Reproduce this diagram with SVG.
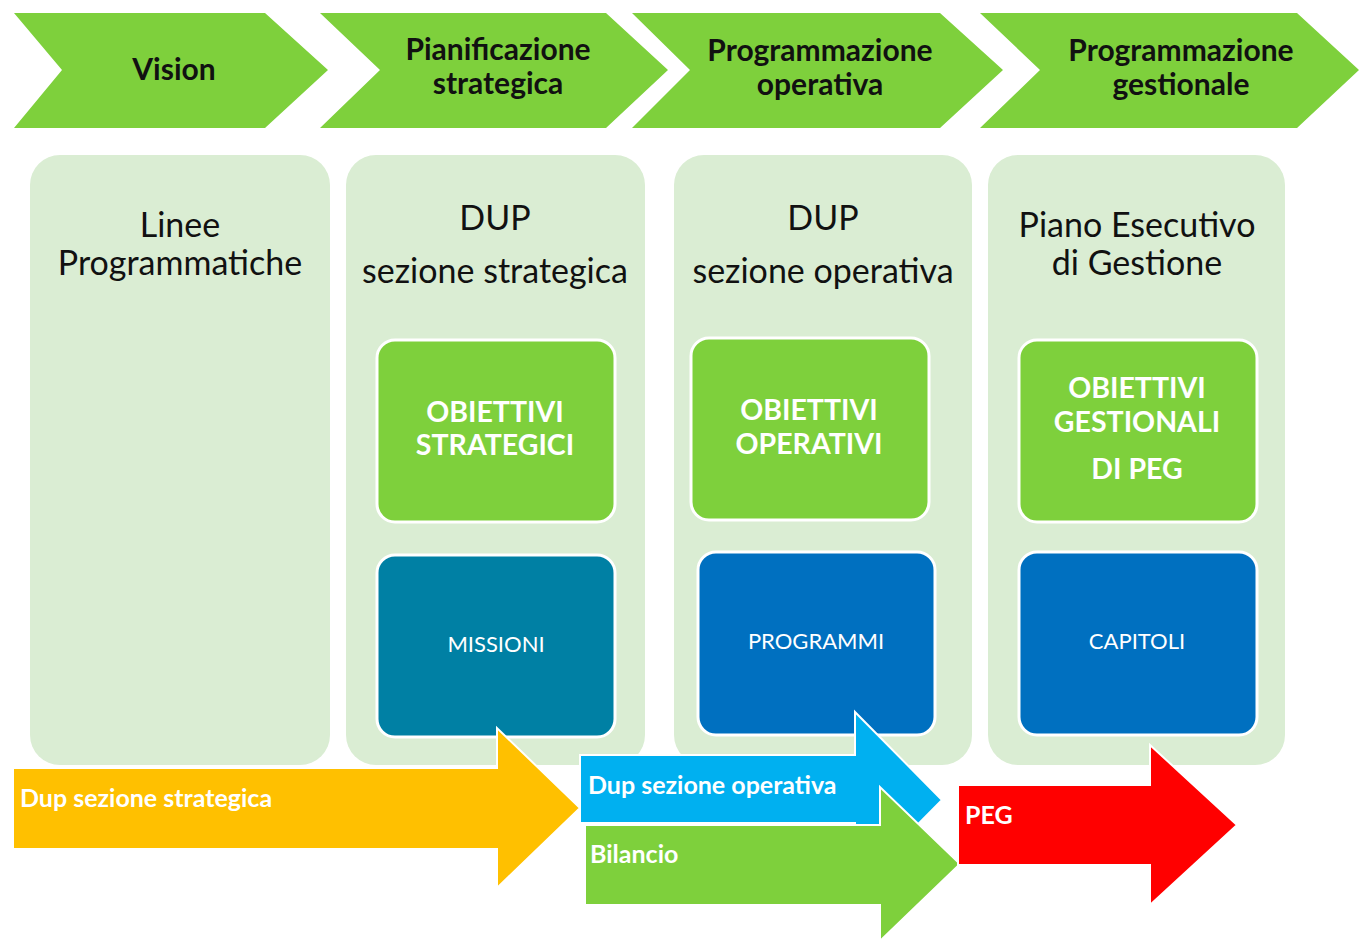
<svg xmlns="http://www.w3.org/2000/svg" width="1359" height="941" viewBox="0 0 1359 941">
<style>
.chev{fill:#7ED03C}
.chevt{font-family:Lato,"Liberation Sans",sans-serif;font-weight:bold;font-size:30px;fill:#111;text-anchor:middle}
.panel{fill:#DAEDD3}
.pt{font-family:Lato,"Liberation Sans",sans-serif;font-size:34px;fill:#111;text-anchor:middle}
.gbox{fill:#7ED03C;stroke:#fff;stroke-width:3}
.gt{font-family:Lato,"Liberation Sans",sans-serif;font-weight:bold;font-size:28.5px;fill:#fff;text-anchor:middle}
.bt{font-family:Lato,"Liberation Sans",sans-serif;font-size:22px;fill:#fff;text-anchor:middle}
.arr{stroke:#fff;stroke-width:2;stroke-linejoin:miter}
.at{font-family:Lato,"Liberation Sans",sans-serif;font-weight:bold;font-size:25px;fill:#fff}
</style>
<rect width="1359" height="941" fill="#fff"/>
<g id="chevron-vision">
<polygon class="chev" points="14,13 265,13 328,70 265,128 14,128 62,70"/>
<text class="chevt" x="174" y="80">Vision</text>
</g>
<g id="chevron-pianificazione">
<polygon class="chev" points="320,13 606,13 668,70 606,128 320,128 380,70"/>
<text class="chevt" x="498" y="60">Pianificazione</text>
<text class="chevt" x="498" y="94">strategica</text>
</g>
<g id="chevron-prog-operativa">
<polygon class="chev" points="632,13 940,13 1003,70 940,128 632,128 690,70"/>
<text class="chevt" x="820" y="61">Programmazione</text>
<text class="chevt" x="820" y="95">operativa</text>
</g>
<g id="chevron-prog-gestionale">
<polygon class="chev" points="980,13 1297,13 1359,70 1297,128 980,128 1040,70"/>
<text class="chevt" x="1181" y="61">Programmazione</text>
<text class="chevt" x="1181" y="95">gestionale</text>
</g>
<g id="panel-linee">
<rect class="panel" x="30" y="155" width="300" height="610" rx="30"/>
<text class="pt" x="180" y="237">Linee</text>
<text class="pt" x="180" y="275">Programmatiche</text>
</g>
<g id="panel-dup-strategica">
<rect class="panel" x="346" y="155" width="299" height="610" rx="30"/>
<text class="pt" x="495" y="230">DUP</text>
<text class="pt" x="495" y="283">sezione strategica</text>
</g>
<g id="panel-dup-operativa">
<rect class="panel" x="674" y="155" width="298" height="610" rx="30"/>
<text class="pt" x="823" y="230">DUP</text>
<text class="pt" x="823" y="283">sezione operativa</text>
</g>
<g id="panel-peg">
<rect class="panel" x="988" y="155" width="297" height="610" rx="30"/>
<text class="pt" x="1137" y="237">Piano Esecutivo</text>
<text class="pt" x="1137" y="275">di Gestione</text>
</g>
<g id="obiettivi-strategici">
<rect class="gbox" x="377" y="340" width="238" height="182" rx="18"/>
<text class="gt" x="495" y="422">OBIETTIVI</text>
<text class="gt" x="495" y="455">STRATEGICI</text>
</g>
<g id="obiettivi-operativi">
<rect class="gbox" x="691" y="338" width="238" height="182" rx="18"/>
<text class="gt" x="809" y="420">OBIETTIVI</text>
<text class="gt" x="809" y="454">OPERATIVI</text>
</g>
<g id="obiettivi-gestionali">
<rect class="gbox" x="1019" y="340" width="238" height="182" rx="18"/>
<text class="gt" x="1137" y="398">OBIETTIVI</text>
<text class="gt" x="1137" y="432">GESTIONALI</text>
<text class="gt" x="1137" y="479">DI PEG</text>
</g>
<g id="missioni">
<rect x="377" y="555" width="238" height="182" rx="18" fill="#0080A4" stroke="#fff" stroke-width="3"/>
<text class="bt" x="496" y="652">MISSIONI</text>
</g>
<g id="programmi">
<rect x="698" y="552" width="237" height="183" rx="18" fill="#0070C0" stroke="#fff" stroke-width="3"/>
<text class="bt" x="816" y="649">PROGRAMMI</text>
</g>
<g id="capitoli">
<rect x="1019" y="552" width="238" height="183" rx="18" fill="#0070C0" stroke="#fff" stroke-width="3"/>
<text class="bt" x="1137" y="649">CAPITOLI</text>
</g>
<g id="connectors">
<g id="arrow-dup-strategica">
<polygon class="arr" fill="#FFC000" points="13,768 497,768 497,728 580,808 497,888 497,849 13,849"/>
<text class="at" x="20" y="807">Dup sezione strategica</text>
</g>
<g id="arrow-dup-operativa">
<polygon class="arr" fill="#00B0F0" points="580,755 855,755 855,712 942,800 855,888 855,823 580,823"/>
<text class="at" x="588" y="794">Dup sezione operativa</text>
</g>
<g id="arrow-bilancio">
<polygon class="arr" fill="#7ED03C" points="585,825 880,825 880,787 960,864 880,941 880,905 585,905"/>
<text class="at" x="590" y="863">Bilancio</text>
</g>
<g id="arrow-peg">
<polygon class="arr" fill="#FF0000" points="958,785 1150,785 1150,745 1237,825 1150,905 1150,865 958,865"/>
<text class="at" x="965" y="824">PEG</text>
</g>
</g>
</svg>
